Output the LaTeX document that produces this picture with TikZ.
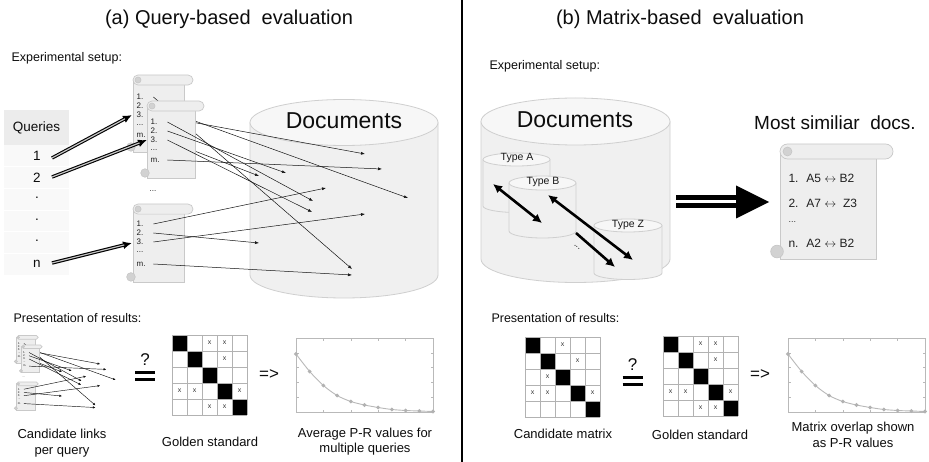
\documentclass[tikz,border=0pt]{standalone}
\usepackage{fontspec}
\setmainfont{Liberation Sans}
\usetikzlibrary{arrows.meta}
\usetikzlibrary{calc}

\tikzset{
  title/.style={font=\fontsize{20}{24}\selectfont},
  caption/.style={anchor=west, font=\fontsize{12.5}{15}\selectfont},
  desc/.style={align=center, font=\fontsize{13}{16}\selectfont},
  docs/.style={font=\fontsize{23}{26}\selectfont},
  typename/.style={font=\fontsize{10.5}{12}\selectfont, text=gray!20!black},
  qtext/.style={font=\fontsize{13.5}{16}\selectfont},
  cylbody/.style={fill=gray!12, draw=gray!38, line width=0.8pt},
  cyltop/.style={fill=gray!6, draw=gray!38, line width=0.8pt},
  scrollbody/.style={fill=gray!13, draw=gray!42, line width=0.7pt},
  scrollcurl/.style={fill=gray!35, draw=gray!45, line width=0.6pt},
  entry/.style={anchor=west, text width=16pt, align=left, inner sep=0.5pt, text=gray!25!black, font=\fontsize{8}{8}\selectfont},
  link/.style={draw=gray!15!black, line width=0.5pt, -{Latex[length=4pt,width=3pt]}},
  qarrow/.style={line width=3.4pt, -{Latex[length=9pt,width=8pt]},
    postaction={draw=gray!45, line width=1.2pt, -, shorten >=8pt}},
  typearrow/.style={line width=2.6pt, {Latex[length=9pt,width=9pt]}-{Latex[length=9pt,width=9pt]}},
  bigshaft/.style={draw=black, line width=5pt, double=white, double distance=3pt},
  matgrid/.style={draw=gray!60, line width=0.6pt},
  xmark/.style={inner sep=0pt, text=gray!45!black, font=\fontsize{7}{7}\selectfont},
  plotframe/.style={draw=gray!55, line width=0.6pt},
  prcurve/.style={draw=gray!55, line width=0.9pt, mark=*, mark size=1.4pt, mark options={fill=gray!60, draw=gray!60}},
}

% database drum: centre x, top y, bottom y, x radius, y radius
\newcommand{\dbcyl}[5]{\filldraw[cylbody] (#1-#4,#2) -- (#1-#4,#3) arc[start angle=180, end angle=0, x radius=#4, y radius=#5] -- (#1+#4,#2); \filldraw[cyltop] (#1,#2) ellipse[x radius=#4, y radius=#5];}

% paper scroll: left, top, width, height
\newcommand{\scroll}[4]{%
  \pgfmathsetmacro{\scrl}{0.065*#4}
  \filldraw[scrollbody] (#1,#2+\scrl) rectangle (#1+0.85*#3,#2+#4);
  \filldraw[scrollbody] (#1+\scrl,#2) -- (#1+#3-\scrl,#2) arc[start angle=-90, end angle=90, radius=\scrl] -- (#1+\scrl,#2+2*\scrl) arc[start angle=90, end angle=270, radius=\scrl] -- cycle;
  \filldraw[scrollcurl] (#1+\scrl,#2+\scrl) circle[radius=0.6*\scrl];
  \filldraw[scrollcurl] (#1-0.4*\scrl,#2+#4-\scrl) circle[radius=0.85*\scrl];
}

% ranked lists of the queries and their links into the collection
\newcommand{\querylinks}[1]{%
  \coordinate (#1e1) at (365,154);  \coordinate (#1e2) at (382,169);
  \coordinate (#1e3) at (408,198);  \coordinate (#1e4) at (259,176);
  \coordinate (#1e5) at (286,173);  \coordinate (#1e6) at (313,201);
  \coordinate (#1e7) at (312,212);  \coordinate (#1e8) at (326,188);
  \coordinate (#1e9) at (365,214);  \coordinate (#1e10) at (259,243);
  \coordinate (#1e11) at (352,269); \coordinate (#1e12) at (352,275);
  \coordinate (#1in1) at (132,115); \coordinate (#1in2) at (147,140);
  \coordinate (#1in3) at (132,243);
  \scroll{133}{75}{60}{77}
  \node[entry] (#1a1) at (136,97) {1.};
  \node[entry] (#1a2) at (136,106) {2.};
  \node[entry] (#1a3) at (136,115) {3.};
  \node[entry] (#1a4) at (136,125) {...};
  \node[entry] (#1am) at (136,135) {m.};
  \draw[link] (#1a1.east) -- (#1e11);
  \draw[link] (#1a2.east) -- (#1e3);
  \draw[link] (#1a3.east) -- (#1e1);
  \draw[link] (#1am.east) -- (#1e4);
  \scroll{147}{101}{57}{77}
  \node[entry] (#1b1) at (150,122) {1.};
  \node[entry] (#1b2) at (150,131) {2.};
  \node[entry] (#1b3) at (150,140) {3.};
  \node[entry] (#1b4) at (150,150) {...};
  \node[entry] (#1bm) at (150,160) {m.};
  \draw[link] (#1b1.east) -- (#1e6);
  \draw[link] (#1b2.east) -- (#1e5);
  \draw[link] (#1b3.east) -- (#1e7);
  \draw[link] (#1bm.east) -- (#1e2);
  \node[entry, anchor=center, text width=] (#1gap) at (153,191) {...};
  \scroll{133}{204}{60}{78}
  \node[entry] (#1c1) at (136,224) {1.};
  \node[entry] (#1c2) at (136,233) {2.};
  \node[entry] (#1c3) at (136,242) {3.};
  \node[entry] (#1c4) at (136,252) {...};
  \node[entry] (#1cm) at (136,264) {m.};
  \draw[link] (#1c1.east) -- (#1e8);
  \draw[link] (#1c2.east) -- (#1e10);
  \draw[link] (#1c3.east) -- (#1e9);
  \draw[link] (#1cm.east) -- (#1e12);
}

% 5x5 relevance matrix: name prefix, left, top, cells with an x
\newcommand{\relmatrix}[4]{%
  \begin{scope}[shift={(#2,#3)}]
    \foreach \i in {0,...,4} \fill (15*\i,16*\i) rectangle ++(15,16);
    \foreach \i in {0,...,5} {
      \draw[matgrid] (15*\i,0) -- (15*\i,80);
      \draw[matgrid] (0,16*\i) -- (75,16*\i);
    }
    \foreach \c/\r in {#4} \node[xmark] (#1\c\r) at (15*\c+7.5,16*\r+8) {x};
  \end{scope}
}

% precision-recall chart: left, top
\newcommand{\prplot}[2]{%
  \begin{scope}[shift={(#1,#2)}]
    \draw[plotframe] (0,0) rectangle (137,74);
    \foreach \t in {1,...,4} {
      \draw[plotframe] (27.4*\t,0) -- (27.4*\t,2.5);
      \draw[plotframe] (27.4*\t,74) -- (27.4*\t,71.5);
      \draw[plotframe] (0,14.8*\t) -- (2.5,14.8*\t);
      \draw[plotframe] (137,14.8*\t) -- (134.5,14.8*\t);
    }
    \draw[prcurve] plot[smooth] coordinates {(0,16) (13.7,33.5) (27.4,47.5) (41.1,57.5) (54.8,63.5) (68.5,67) (82.2,69.5) (95.9,71.5) (109.6,72.5) (123.3,73) (137,73.5)};
  \end{scope}
}

% "?=" sign: name, centre x, upper bar y
\newcommand{\qeq}[3]{%
  \node[font=\fontsize{17}{17}\selectfont] (#1) at (#2,#3-12) {?};
  \draw[line width=3pt] (#2-10,#3) -- (#2+10,#3);
  \draw[line width=3pt] (#2-10,#3+7) -- (#2+10,#3+7);
}

\begin{document}
\begin{tikzpicture}[x=1pt, y=-1pt, every node/.style={text=gray!10!black}]
  \useasboundingbox (0,0) rectangle (929,462);
  \fill[white] (0,0) rectangle (929,462);

  \node[title] (titlea) at (229,19) {(a) Query-based\ \ evaluation};
  \node[title] (titleb) at (680,19) {(b) Matrix-based\ \ evaluation};
  \draw[line width=2.5pt] (462,0) -- (462,462);

  % ---- query-based setup
  \node[caption] (setupa) at (8,58) {Experimental setup:};
  \fill[gray!15] (4,110) rectangle (69,145);
  \fill[gray!5] (4,145) rectangle (69,275);
  \foreach \i in {1,...,5} \draw[white, line width=1pt] (4,145+21.67*\i) -- (69,145+21.67*\i);
  \node[qtext] (qhead) at (36.5,127.5) {Queries};
  \node[qtext] (q1) at (37,156) {1};
  \node[qtext] (q2) at (37,178) {2};
  \node[qtext] (qd1) at (37,198) {.};
  \node[qtext] (qd2) at (37,220) {.};
  \node[qtext] (qd3) at (37,241) {.};
  \node[qtext] (qn) at (37,264) {n};
  \coordinate (q1out) at (52,158);
  \coordinate (q2out) at (52,177);
  \coordinate (qnout) at (52,263);

  \dbcyl{344}{122.5}{275}{94}{23}
  \node[docs] (docsa) at (344,121) {Documents};
  \querylinks{q}
  \draw[qarrow] (q1out) -- (qin1);
  \draw[qarrow] (q2out) -- (qin2);
  \draw[qarrow] (qnout) -- (qin3);

  % ---- matrix-based setup
  \node[caption] (setupb) at (486,66) {Experimental setup:};
  \dbcyl{575.5}{121.5}{259}{94.5}{23.5}
  \node[docs] (docsb) at (575,120) {Documents};
  \dbcyl{516.5}{159.5}{206}{33.5}{6.5}
  \node[typename] (typea) at (517,158) {Type A};
  \dbcyl{542.5}{183}{231}{33.5}{7}
  \node[typename] (typeb) at (543,182) {Type B};
  \dbcyl{628}{225.5}{273}{34}{6.5}
  \node[typename] (typez) at (628,225) {Type Z};
  \coordinate (ab1) at (493,184); \coordinate (ab2) at (542,223);
  \coordinate (bz1) at (548,195); \coordinate (bz2) at (633,260);
  \coordinate (dz1) at (576,233); \coordinate (dz2) at (615,267);
  \draw[typearrow] (ab1) -- (ab2);
  \draw[typearrow] (bz1) -- (bz2);
  \draw[typearrow, -{Latex[length=9pt,width=9pt]}] (dz1) -- (dz2);
  \node[rotate=-38, font=\fontsize{9}{9}\selectfont] (moretypes) at (577,247) {...};

  \coordinate (bigfrom) at (676,202);
  \coordinate (bigto) at (769,202);
  \draw[bigshaft] (bigfrom) -- ($(bigto)+(-33,0)$);
  \fill (bigto) -- ++(-33,-16.5) -- ++(0,33) -- cycle;

  \node[font=\fontsize{19}{22}\selectfont] (simdocs) at (835,123) {Most similiar\ \ docs.};
  \scroll{780}{144}{113}{115}
  \node[anchor=west, font=\fontsize{12}{14}\selectfont, text=gray!25!black] (pair1) at (785,178) {1.~ A5 $\leftrightarrow$ B2};
  \node[anchor=west, font=\fontsize{12}{14}\selectfont, text=gray!25!black] (pair2) at (785,203) {2.~ A7 $\leftrightarrow$ ~Z3};
  \node[anchor=west, font=\fontsize{9}{10}\selectfont, text=gray!40!black] (pairdots) at (785,222) {...};
  \node[anchor=west, font=\fontsize{12}{14}\selectfont, text=gray!25!black] (pairn) at (785,243) {n.~ A2 $\leftrightarrow$ B2};

  % ---- results, query-based
  \node[caption] (presa) at (10,318) {Presentation of results:};
  \begin{scope}[shift={(-31.24,308.56)}, scale=0.36, every node/.append style={transform shape},
      link/.style={draw=gray!15!black, line width=0.45pt, -{Latex[length=2.6pt,width=2.4pt]}}]
    \querylinks{m}
  \end{scope}
  \node[desc] (candlinks) at (62,443) {Candidate links\\per query};
  \qeq{qeqa}{145}{372}
  \relmatrix{gl}{172}{335}{2/0,3/0,3/1,0/3,1/3,4/3,2/4,3/4}
  \node[desc] (golda) at (210,442) {Golden standard};
  \node[font=\fontsize{17}{17}\selectfont] (impa) at (269,375) {=>};
  \prplot{296}{338}
  \node[desc, font=\fontsize{13}{15}\selectfont] (avgpr) at (365,441.5) {Average P-R values for\\multiple queries};

  % ---- results, matrix-based
  \node[caption] (presb) at (488,318) {Presentation of results:};
  \relmatrix{cm}{525}{337}{2/0,3/1,1/2,0/3,1/3,4/3}
  \node[desc] (candmat) at (563,434) {Candidate matrix};
  \qeq{qeqb}{632.5}{377}
  \relmatrix{gr}{663}{336}{2/0,3/0,3/1,0/3,1/3,4/3,2/4,3/4}
  \node[desc] (goldb) at (700,435) {Golden standard};
  \node[font=\fontsize{17}{17}\selectfont] (impb) at (760,375) {=>};
  \prplot{788}{338}
  \node[desc] (overlap) at (853,435) {Matrix overlap shown\\as P-R values};
\end{tikzpicture}
\end{document}
